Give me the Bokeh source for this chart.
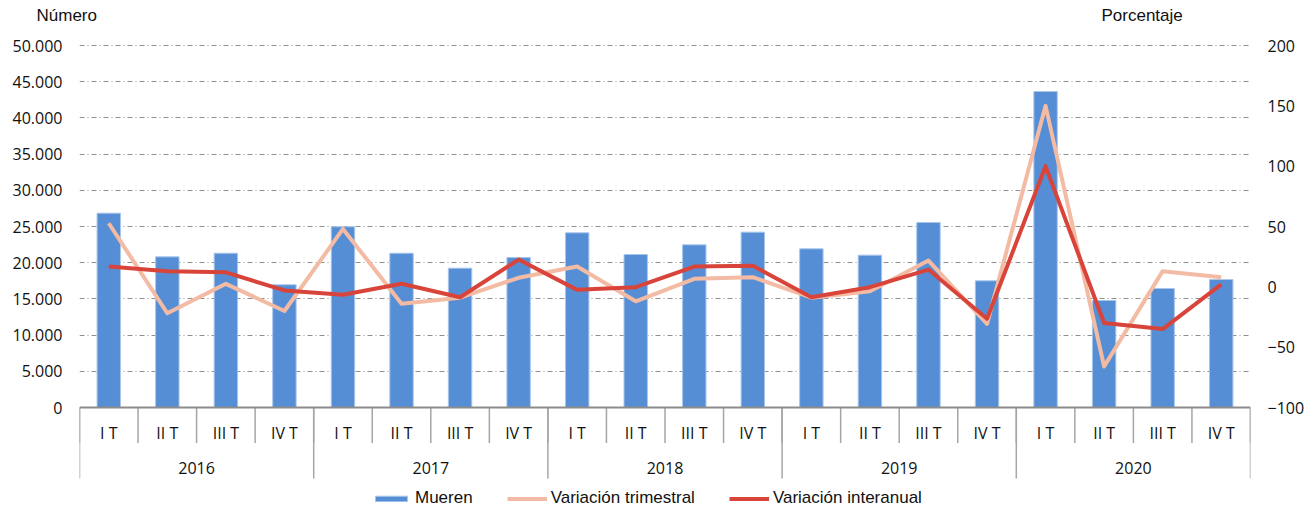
from bokeh.plotting import figure
from bokeh.layouts import column
from bokeh.models import (Range1d, LinearAxis, FixedTicker, Span, Legend,
                          LegendItem, ColumnDataSource)
from bokeh.core.properties import value
from bokeh.embed import file_html
from bokeh.resources import INLINE

# ---------------- data ----------------
years = ["2016", "2017", "2018", "2019", "2020"]
quarters = ["I T", "II T", "III T", "IV T"]
mueren = [26840, 20810, 21310, 16950,
          24960, 21310, 19240, 20720,
          24130, 21130, 22470, 24220,
          21920, 21040, 25550, 17500,
          43650, 14780, 16440, 17680]
var_trimestral = [52.7, -21.9, 2.5, -20.0,
                  48.0, -14.0, -9.0, 7.5,
                  16.8, -12.0, 6.6, 8.0,
                  -9.0, -3.6, 21.8, -30.7,
                  150.0, -66.0, 13.0, 8.0]
var_interanual = [16.8, 13.0, 12.0, -3.0,
                  -6.6, 2.5, -8.6, 22.6,
                  -2.5, -0.3, 16.8, 17.4,
                  -8.6, -0.3, 14.3, -26.5,
                  100.0, -30.0, -35.0, 2.0]
left_ticks = [0, 5000, 10000, 15000, 20000, 25000, 30000, 35000, 40000, 45000, 50000]
left_labels = ["0", "5.000", "10.000", "15.000", "20.000", "25.000", "30.000",
               "35.000", "40.000", "45.000", "50.000"]
right_ticks = [-100, -50, 0, 50, 100, 150, 200]
left_title = "Número"
right_title = "Porcentaje"

# ---------------- layout constants (pixels, page coords) ----------------
PAGE_W = 1313
HEADER_H = 30
FRAME_LEFT, FRAME_RIGHT = 79, 1250
GRID_TOP, AXIS_Y, FRAME_BOTTOM = 45, 407, 508
FRAME_W = FRAME_RIGHT - FRAME_LEFT
FRAME_H = FRAME_BOTTOM - HEADER_H
px_per_left = (AXIS_Y - GRID_TOP) / (left_ticks[-1] - left_ticks[0])
px_per_right = (AXIS_Y - GRID_TOP) / (right_ticks[-1] - right_ticks[0])
below = FRAME_BOTTOM - AXIS_Y
above = GRID_TOP - HEADER_H

n = len(mueren)
xs = [i + 0.5 for i in range(n)]
q_labels = [quarters[i % 4] for i in range(n)]
year_x = [4 * k + 2 for k in range(len(years))]

# ---------------- header strip with the axis titles ----------------
hdr = figure(frame_width=PAGE_W, frame_height=HEADER_H, x_range=Range1d(0, PAGE_W),
             y_range=Range1d(0, HEADER_H), output_backend="svg", toolbar_location=None,
             min_border=0, x_axis_location=None, y_axis_location=None)
hdr.frame_align = False
hdr.grid.visible = False
hdr.outline_line_color = None
hdr.text(x=[36, 1101], y=[HEADER_H - 15, HEADER_H - 15], text=[left_title, right_title],
         text_align="left", text_baseline="middle",
         text_font=value("Liberation Sans"), text_font_size="17px", text_color="#111111")

# ---------------- main chart ----------------
p = figure(frame_width=FRAME_W, frame_height=FRAME_H,
           x_range=Range1d(0, n),
           y_range=Range1d(left_ticks[0] - below / px_per_left,
                           left_ticks[-1] + above / px_per_left),
           output_backend="svg", toolbar_location=None,
           min_border_left=FRAME_LEFT, min_border_right=PAGE_W - FRAME_RIGHT,
           min_border_top=0, min_border_bottom=0)
p.frame_align = False
p.outline_line_color = None
p.background_fill_color = "white"
p.border_fill_color = "white"
p.xaxis.visible = False
p.xgrid.visible = False

# "tbl" range: 1 unit = 1 pixel, 0 at the category axis line
p.extra_y_ranges = {
    "pct": Range1d(right_ticks[0] - below / px_per_right,
                   right_ticks[-1] + above / px_per_right),
    "tbl": Range1d(-below, AXIS_Y - HEADER_H),
}

TICK_FONT = "Open Sans"
# left axis
ya = p.yaxis[0]
ya.ticker = FixedTicker(ticks=left_ticks)
ya.major_label_overrides = {t: l for t, l in zip(left_ticks, left_labels)}
ya.axis_line_color = None
ya.major_tick_line_color = None
ya.minor_tick_line_color = None
ya.major_tick_out = 0
ya.major_label_standoff = 17
ya.major_label_text_font = TICK_FONT
ya.major_label_text_font_size = "16px"
ya.major_label_text_color = "#111111"

# right axis
ra = LinearAxis(y_range_name="pct", ticker=FixedTicker(ticks=right_ticks))
ra.axis_line_color = None
ra.major_tick_line_color = None
ra.minor_tick_line_color = None
ra.major_tick_out = 0
ra.major_label_standoff = 17
ra.major_label_text_font = TICK_FONT
ra.major_label_text_font_size = "16px"
ra.major_label_text_color = "#111111"
p.add_layout(ra, "right")

# grid
g = p.ygrid[0]
g.ticker = FixedTicker(ticks=left_ticks[1:])
g.grid_line_color = "#8f8f8f"
g.grid_line_width = 1
g.grid_line_dash = "5 3 1 3"

src = ColumnDataSource(dict(x=xs, mueren=mueren, trim=var_trimestral,
                            inter=var_interanual, q=q_labels))

bars = p.vbar(x="x", top="mueren", bottom=0, width=0.4, source=src,
              fill_color="#558ED5", line_color="#A9C6EA", line_width=1)
l_trim = p.line(x="x", y="trim", source=src, y_range_name="pct",
                line_color="#F3BBA3", line_width=4, line_join="round")
l_inter = p.line(x="x", y="inter", source=src, y_range_name="pct",
                 line_color="#D9443A", line_width=4, line_join="round")

# category axis line
p.add_layout(Span(location=0, dimension="width", line_color="#8c8c8c", line_width=2))

# category table separators
q_seps = list(range(n + 1))
y_seps = [4 * k for k in range(len(years) + 1)]
p.segment(x0=q_seps, y0=[0] * len(q_seps), x1=q_seps, y1=[-35.5] * len(q_seps),
          y_range_name="tbl", line_color="#a6a6a6", line_width=1.5)
p.segment(x0=y_seps, y0=[0] * len(y_seps), x1=y_seps, y1=[-71] * len(y_seps),
          y_range_name="tbl", line_color="#a6a6a6", line_width=1.5)

p.text(x="x", y=-25, text="q", source=src, y_range_name="tbl",
       text_align="center", text_baseline="middle",
       text_font=value(TICK_FONT), text_font_size="16px", text_color="#111111")
p.text(x=year_x, y=[-60] * len(years), text=years, y_range_name="tbl",
       text_align="center", text_baseline="middle",
       text_font=value(TICK_FONT), text_font_size="16px", text_color="#111111")

legend = Legend(items=[LegendItem(label="Mueren", renderers=[bars]),
                       LegendItem(label="Variación trimestral", renderers=[l_trim]),
                       LegendItem(label="Variación interanual", renderers=[l_inter])],
                location=(292, 0), orientation="horizontal")
legend.border_line_color = None
legend.background_fill_alpha = 0
legend.padding = 0
legend.margin = 0
legend.glyph_width = 40
legend.glyph_height = 7
legend.label_standoff = 4
legend.spacing = 34
legend.label_text_font = "Liberation Sans"
legend.label_text_font_size = "17px"
legend.label_text_color = "#111111"
p.add_layout(legend)

layout = column(hdr, p, spacing=0)
open("out.html", "w").write(file_html(layout, INLINE))
